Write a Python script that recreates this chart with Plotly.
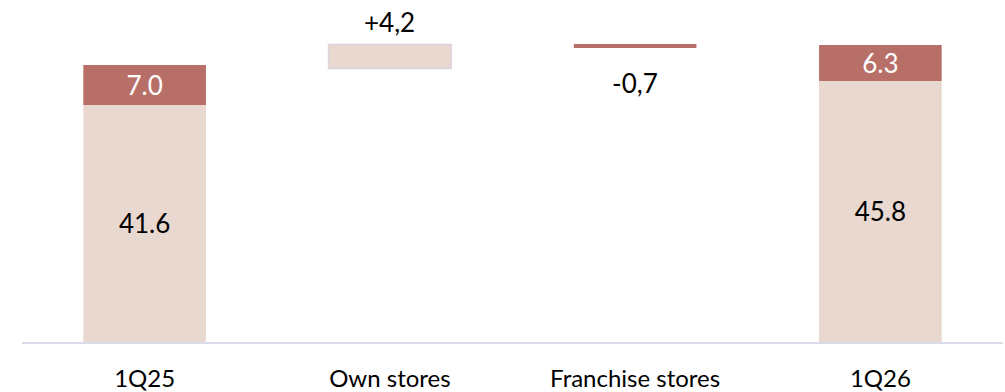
import plotly.graph_objects as go

categories = ["1Q25", "Own stores", "Franchise stores", "1Q26"]

# Totals split (base segment / top segment)
total_cats = ["1Q25", "1Q26"]
base_values = [41.6, 45.8]
top_values = [7.0, 6.3]

# Bridge steps
step_cats = ["Own stores", "Franchise stores"]
step_values = [4.2, -0.7]
step_bases = [48.0, 52.3]
step_labels = ["+4,2", "-0,7"]

beige = "#e8d8cf"
red = "#b86f68"
font = "Lato"
vsize = 26

fig = go.Figure()

fig.add_trace(go.Bar(
    x=total_cats, y=base_values, base=[0, 0],
    marker=dict(color=beige, line=dict(width=0)),
    text=[f"{v:.1f}" for v in base_values], textposition="inside",
    insidetextanchor="middle", textangle=0, constraintext="none",
    textfont=dict(family=font, size=vsize, color="#000000"),
    width=0.5, showlegend=False, hoverinfo="skip",
))
fig.add_trace(go.Bar(
    x=total_cats, y=top_values, base=base_values,
    marker=dict(color=red, line=dict(width=0)),
    text=[f"{v:.1f}" for v in top_values], textposition="inside",
    insidetextanchor="middle", textangle=0, constraintext="none",
    textfont=dict(family=font, size=vsize, color="#ffffff"),
    width=0.5, showlegend=False, hoverinfo="skip",
))
fig.add_trace(go.Bar(
    x=[step_cats[0]], y=[step_values[0]], base=[step_bases[0]],
    marker=dict(color=beige, line=dict(width=1.5, color="#dcd3dc")),
    width=0.5, showlegend=False, hoverinfo="skip", cliponaxis=False,
))
fig.add_trace(go.Bar(
    x=[step_cats[1]], y=[step_values[1]], base=[step_bases[1]],
    marker=dict(color=red, line=dict(width=0)),
    width=0.5, showlegend=False, hoverinfo="skip", cliponaxis=False,
))

# step labels: above rising bar, below falling bar
for cat, val, b, lab in zip(step_cats, step_values, step_bases, step_labels):
    end = b + val
    fig.add_annotation(
        x=cat, y=end if val > 0 else end, text=lab, showarrow=False,
        yshift=22 if val > 0 else -35,
        font=dict(family=font, size=vsize, color="#000000"),
    )

fig.update_layout(
    width=1005, height=392,
    margin=dict(l=22, r=2, t=0, b=50),
    barmode="overlay",
    plot_bgcolor="white", paper_bgcolor="white",
    font=dict(family=font, size=24, color="#000000"),
    xaxis=dict(
        categoryorder="array", categoryarray=categories,
        showline=True, linecolor="#d9dde8", linewidth=2,
        showgrid=False, zeroline=False, ticks="",
        tickfont=dict(family=font, size=24, color="#000000"),
        ticklabelstandoff=14,
        range=[-0.5, 3.5],
    ),
    yaxis=dict(visible=False, range=[0, 60], showgrid=False, zeroline=False),
)

fig.write_html("out.html")
